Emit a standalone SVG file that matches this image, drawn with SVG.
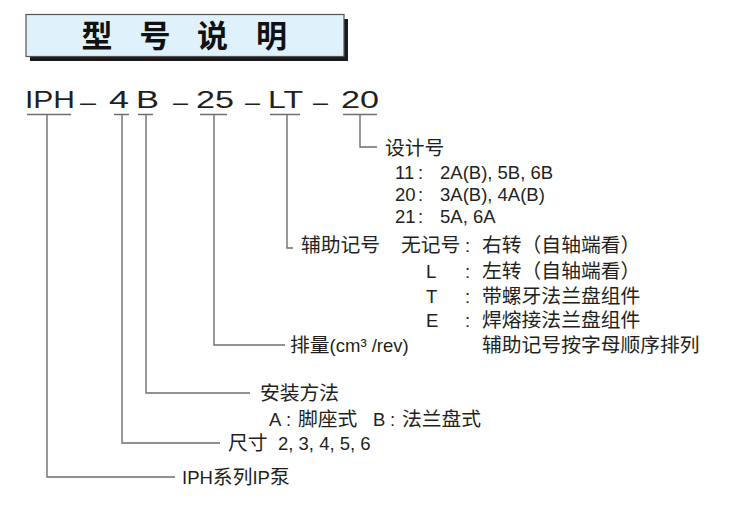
<svg xmlns="http://www.w3.org/2000/svg" width="743" height="526" viewBox="0 0 743 526">
<style>
text{font-family:"Liberation Sans","Noto Sans CJK SC",sans-serif;fill:#231f20;font-size:18.5px}
.cj{font-family:"Noto Sans CJK SC","Liberation Sans",sans-serif;font-size:19.8px}
.model{font-size:24px}
.title{font-family:"Noto Sans CJK SC",sans-serif;font-weight:700;font-size:31px;fill:#111}
.ln{fill:none;stroke:#6d6e71;stroke-width:1.4}
</style>
<rect width="743" height="526" fill="#fff"/>
<g id="title">
<rect x="30" y="19" width="318" height="42" fill="#1a1a1a"/>
<rect x="26" y="14.5" width="318" height="42" fill="#dff1fb" stroke="#555" stroke-width="1.2"/>
<text class="title" x="97 155 212.5 271.5" y="47" text-anchor="middle">型号说明</text>
</g>
<g id="model">
<text class="model" x="25" y="108" textLength="50" lengthAdjust="spacingAndGlyphs">IPH</text>
<text class="model" x="80" y="110" textLength="16" lengthAdjust="spacingAndGlyphs">–</text>
<text class="model" x="109" y="108" textLength="20" lengthAdjust="spacingAndGlyphs">4</text>
<text class="model" x="136" y="108" textLength="23" lengthAdjust="spacingAndGlyphs">B</text>
<text class="model" x="173" y="110" textLength="15" lengthAdjust="spacingAndGlyphs">–</text>
<text class="model" x="196" y="108" textLength="38" lengthAdjust="spacingAndGlyphs">25</text>
<text class="model" x="245" y="110" textLength="15" lengthAdjust="spacingAndGlyphs">–</text>
<text class="model" x="268" y="108" textLength="35" lengthAdjust="spacingAndGlyphs">LT</text>
<text class="model" x="313" y="110" textLength="15" lengthAdjust="spacingAndGlyphs">–</text>
<text class="model" x="341" y="108" textLength="38" lengthAdjust="spacingAndGlyphs">20</text>
</g>
<g id="connectors">
<path class="ln" d="M27 114.5H71M114 114.5H129M138 114.5H153M200 114.5H227M270 114.5H300M343 114.5H377"/>
<path class="ln" d="M360 114.5V147H377"/>
<path class="ln" d="M287 114.5V248H293"/>
<path class="ln" d="M214 114.5V345H285"/>
<path class="ln" d="M146 114.5V393H250"/>
<path class="ln" d="M122 114.5V443H220"/>
<path class="ln" d="M47 114.5V477H175"/>
</g>
<g id="design-no">
<text class="cj" x="385" y="155">设计号</text>
<text y="179"><tspan x="395">11</tspan><tspan x="418">:</tspan><tspan x="440">2A(B), 5B, 6B</tspan></text>
<text y="201"><tspan x="395">20</tspan><tspan x="418">:</tspan><tspan x="440">3A(B), 4A(B)</tspan></text>
<text y="223"><tspan x="395">21</tspan><tspan x="418">:</tspan><tspan x="440">5A, 6A</tspan></text>
</g>
<g id="aux-mark">
<text y="252"><tspan class="cj" x="301">辅助记号</tspan><tspan class="cj" x="401">无记号</tspan><tspan x="465">:</tspan><tspan class="cj" x="482">右转（自轴端看）</tspan></text>
<text y="278"><tspan x="426">L</tspan><tspan x="465">:</tspan><tspan class="cj" x="482">左转（自轴端看）</tspan></text>
<text y="303"><tspan x="426">T</tspan><tspan x="465">:</tspan><tspan class="cj" x="482">带螺牙法兰盘组件</tspan></text>
<text y="327"><tspan x="426">E</tspan><tspan x="465">:</tspan><tspan class="cj" x="482">焊熔接法兰盘组件</tspan></text>
<text class="cj" x="482" y="352">辅助记号按字母顺序排列</text>
</g>
<g id="displacement">
<text y="352"><tspan class="cj" x="290">排量</tspan><tspan>(cm³ /rev)</tspan></text>
</g>
<g id="mounting">
<text class="cj" x="260" y="400">安装方法</text>
<text y="426"><tspan x="269">A</tspan><tspan x="286">:</tspan><tspan class="cj" x="298">脚座式</tspan><tspan x="373">B</tspan><tspan x="390">:</tspan><tspan class="cj" x="402">法兰盘式</tspan></text>
</g>
<g id="size">
<text y="450"><tspan class="cj" x="228">尺寸</tspan><tspan x="278">2, 3, 4, 5, 6</tspan></text>
</g>
<g id="series">
<text y="484"><tspan x="182">IPH</tspan><tspan class="cj">系列</tspan><tspan>IP</tspan><tspan class="cj">泵</tspan></text>
</g>
</svg>
